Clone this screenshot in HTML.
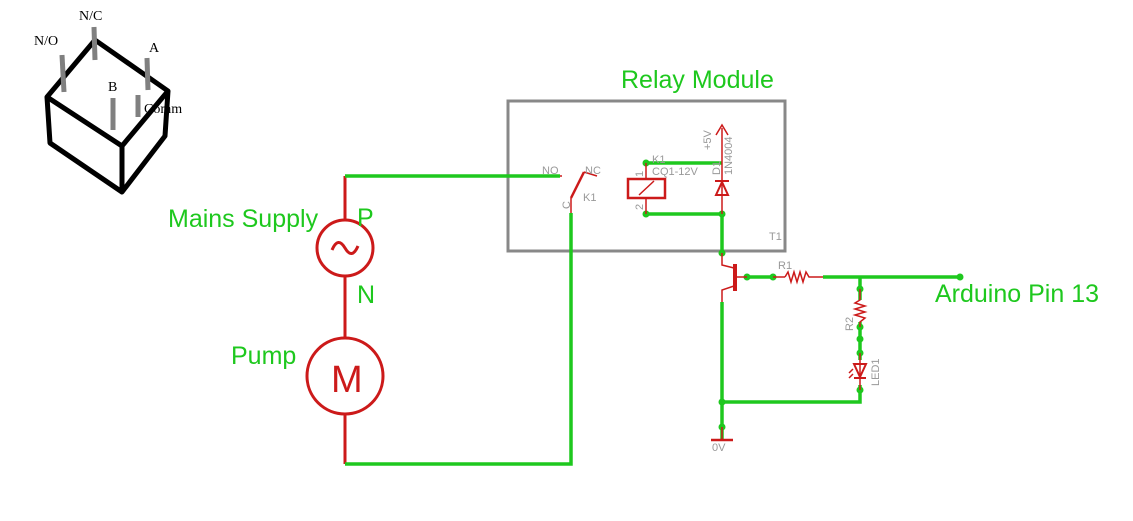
<!DOCTYPE html>
<html><head><meta charset="utf-8"><style>
html,body{margin:0;padding:0;background:#fff;}
svg{display:block;}
.g{fill:#1ec81e;font-family:"Liberation Sans",sans-serif;}
.gr{fill:#999;font-family:"Liberation Sans",sans-serif;font-size:11px;}
.s{font-family:"Liberation Serif",serif;font-size:14px;fill:#000;}
</style></head><body>
<svg width="1133" height="521" viewBox="0 0 1133 521" xmlns="http://www.w3.org/2000/svg">
<g stroke="#000" stroke-width="5" fill="none" stroke-linejoin="round">
<path d="M95 40 L47 97 L122 146 L168 91 Z"/>
<path d="M47 97 L50 143 L122 192 L165 136 L168 91"/>
<path d="M122 146 L122 192"/>
</g>
<g stroke="#808080" stroke-width="5">
<line x1="62" y1="55" x2="64" y2="92"/><line x1="94" y1="27" x2="95" y2="60"/>
<line x1="147" y1="58" x2="148" y2="90"/><line x1="113" y1="98" x2="113" y2="130"/>
<line x1="138" y1="95" x2="138" y2="117"/>
</g>
<text class="s" x="34" y="45">N/O</text><text class="s" x="79" y="20">N/C</text>
<text class="s" x="149" y="52">A</text><text class="s" x="108" y="91">B</text>
<text class="s" x="144" y="113" font-size="13">Comm</text>

<rect x="508" y="101" width="277" height="150" fill="none" stroke="#888" stroke-width="3"/>
<text class="g" x="621" y="88" font-size="25">Relay Module</text>
<text class="gr" x="769" y="240" font-size="12">T1</text>

<g stroke="#cc1a1a" stroke-width="3" fill="none">
<line x1="345" y1="176" x2="345" y2="464"/>
<circle cx="345" cy="248" r="28" fill="#fff"/>
<circle cx="345" cy="376" r="38" fill="#fff"/>
<path d="M332 250 Q338 236 345 248 Q352 260 358 246"/>
</g>
<text x="331" y="392" font-family="Liberation Sans,sans-serif" font-size="38" fill="#cc1a1a">M</text>
<text class="g" x="168" y="227" font-size="25">Mains Supply</text>
<text class="g" x="357" y="226" font-size="25">P</text>
<text class="g" x="357" y="303" font-size="25">N</text>
<text class="g" x="231" y="364" font-size="25">Pump</text>

<g stroke="#1ec81e" stroke-width="3.5" fill="none">
<polyline points="345,176 560,176"/>
<polyline points="345,464 571,464 571,213"/>
<polyline points="646,163 722,163"/>
<polyline points="646,214 722,214 722,253"/>
<polyline points="722,302 722,440"/>
<polyline points="747,277 773,277"/>
<polyline points="823,277 960,277"/>
<polyline points="860,277 860,300"/>
<polyline points="860,322 860,360"/>
<polyline points="860,385 860,402 722,402"/>
</g>
<g fill="#1ec81e">
<circle cx="646" cy="163" r="3.5"/><circle cx="646" cy="214" r="3.5"/><circle cx="722" cy="214" r="3.5"/>
<circle cx="722" cy="253" r="3.5"/><circle cx="747" cy="277" r="3.5"/><circle cx="773" cy="277" r="3.5"/>
<circle cx="960" cy="277" r="3.5"/><circle cx="860" cy="289" r="3.5"/><circle cx="860" cy="327" r="3.5"/>
<circle cx="860" cy="339" r="3.5"/><circle cx="860" cy="353" r="3.5"/><circle cx="860" cy="390" r="3.5"/>
<circle cx="722" cy="402" r="3.5"/><circle cx="722" cy="427" r="3.5"/>
</g>

<g stroke="#cc1a1a" stroke-width="1.5" fill="none">
<line x1="560" y1="176" x2="562" y2="176"/>
<line x1="571" y1="213" x2="571" y2="198"/>
<line x1="571" y1="198" x2="584" y2="172" stroke-width="2.5"/>
<line x1="584" y1="172" x2="597" y2="176"/>
<rect x="628" y="179" width="37" height="19" stroke-width="2.5"/>
<line x1="646" y1="163" x2="646" y2="179"/><line x1="646" y1="198" x2="646" y2="214"/>
<line x1="639" y1="195" x2="654" y2="181"/>
<line x1="722" y1="128" x2="722" y2="214"/>
<path d="M716 135 L722 125 L728 135"/>
<line x1="715" y1="181" x2="729" y2="181" stroke-width="2"/>
<path d="M716 195 L728 195 L722 182 Z" stroke-width="2"/>
<polyline points="722,253 722,265 734,268"/>
<polyline points="734,286 722,290 722,302"/>
<line x1="735" y1="264" x2="735" y2="291" stroke-width="4"/>
<line x1="735" y1="277" x2="747" y2="277"/>
<line x1="773" y1="277" x2="785" y2="277"/>
<polyline points="785,277 788,272 791,282 794,272 797,282 800,272 803,282 806,272 809,277 823,277"/>
<polyline points="860,289 860,300 855,303 865,306 855,309 865,312 855,315 865,318 860,322 860,327"/>
<line x1="860" y1="353" x2="860" y2="390"/>
<path d="M854 364 L866 364 L860 377 Z" stroke-width="2"/>
<line x1="854" y1="378" x2="866" y2="378" stroke-width="2"/>
<line x1="849" y1="373" x2="853" y2="369"/><line x1="849" y1="378" x2="853" y2="374"/>
<line x1="722" y1="427" x2="722" y2="440"/>
<line x1="711" y1="440" x2="733" y2="440" stroke-width="2.5"/>
</g>
<text class="gr" x="542" y="174" font-size="9">NO</text>
<text class="gr" x="585" y="174" font-size="9">NC</text>
<text class="gr" x="583" y="201" font-size="12">K1</text>
<text class="gr" x="570" y="209" font-size="9" transform="rotate(-90 570 209)">C</text>
<text class="gr" x="652" y="163" font-size="12">K1</text>
<text class="gr" x="652" y="175" font-size="12">CQ1-12V</text>
<text class="gr" x="643" y="177" font-size="8" transform="rotate(-90 643 177)">1</text>
<text class="gr" x="643" y="210" font-size="8" transform="rotate(-90 643 210)">2</text>
<text class="gr" x="711" y="150" font-size="10" transform="rotate(-90 711 150)">+5V</text>
<text class="gr" x="732" y="175" font-size="11" transform="rotate(-90 732 175)">1N4004</text>
<text class="gr" x="720" y="175" font-size="11" transform="rotate(-90 720 175)">D1</text>
<text class="gr" x="778" y="269" font-size="12">R1</text>
<text class="gr" x="853" y="331" font-size="12" transform="rotate(-90 853 331)">R2</text>
<text class="gr" x="879" y="386" font-size="12" transform="rotate(-90 879 386)">LED1</text>
<text class="gr" x="712" y="451" font-size="11">0V</text>
<text class="g" x="935" y="302" font-size="25">Arduino Pin 13</text>
</svg>
</body></html>
